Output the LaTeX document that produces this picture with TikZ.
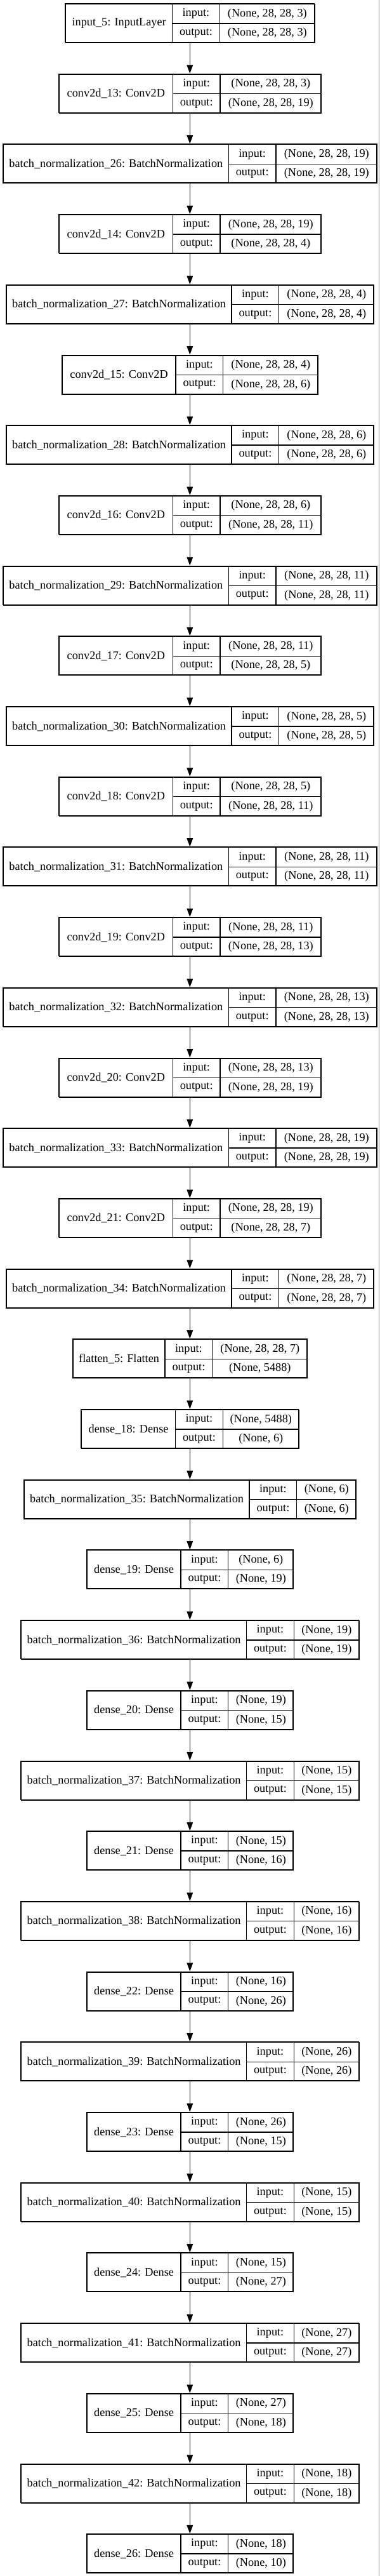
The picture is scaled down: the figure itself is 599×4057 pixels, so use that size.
\documentclass[tikz,border=0pt]{standalone}
\usepackage{fontspec}
\setmainfont{Liberation Serif}
\usetikzlibrary{arrows.meta}
\tikzset{
  frame/.style={draw=black, line width=1pt, inner sep=0pt, rectangle},
  cell/.style={draw=black, line width=1pt, inner sep=0pt, rectangle, align=center,
    font=\fontsize{13.7pt}{15pt}\selectfont},
  conn/.style={draw=black, line width=1pt, -{Triangle[length=10pt,width=7.2pt]}},
  edgeline/.style={draw=black!45, line width=0.75pt}
}
\newcommand\klayer[7]{%
  \pgfmathsetmacro\kyt{5.7+110.7*#2}%
  \pgfmathsetmacro\kw{#3+74.7+#4}%
  \pgfmathsetmacro\kwpt{\kw*0.75}%
  \pgfmathsetmacro\kwa{#3*0.75}%
  \pgfmathsetmacro\kwc{#4*0.75}%
  \pgfmathsetmacro\kxl{299.3-\kw/2}%
  \pgfmathsetmacro\kxa{\kxl+#3}%
  \pgfmathsetmacro\kxb{\kxa+74.7}%
  \pgfmathsetmacro\kym{\kyt+30.5}%
  \node[frame, minimum width=\kwpt pt, minimum height=45.75pt] (#1) at (299.3,\kym) {};
  \node[cell, anchor=north west, minimum width=\kwa pt, minimum height=45.75pt] (#1n) at (\kxl,\kyt) {#5};
  \node[cell, anchor=north west, minimum width=56.025pt, minimum height=22.875pt] (#1i) at (\kxa,\kyt) {input:};
  \node[cell, anchor=north west, minimum width=56.025pt, minimum height=22.875pt] (#1o) at (\kxa,\kym) {output:};
  \node[cell, anchor=north west, minimum width=\kwc pt, minimum height=22.875pt] (#1a) at (\kxb,\kyt) {#6};
  \node[cell, anchor=north west, minimum width=\kwc pt, minimum height=22.875pt] (#1b) at (\kxb,\kym) {#7};
}
\begin{document}
\begin{tikzpicture}[x=0.75pt,y=-0.75pt]
\useasboundingbox (0,0) rectangle (599,4057);
\draw[edgeline] (597.5,0) -- (597.5,4057);
\klayer{L0}{0}{168}{150}{input\_5: InputLayer}{(None, 28, 28, 3)}{(None, 28, 28, 3)}
\klayer{L1}{1}{179}{159.5}{conv2d\_13: Conv2D}{(None, 28, 28, 3)}{(None, 28, 28, 19)}
\klayer{L2}{2}{355}{159.5}{batch\_normalization\_26: BatchNormalization}{(None, 28, 28, 19)}{(None, 28, 28, 19)}
\klayer{L3}{3}{179}{159.5}{conv2d\_14: Conv2D}{(None, 28, 28, 19)}{(None, 28, 28, 4)}
\klayer{L4}{4}{355}{150}{batch\_normalization\_27: BatchNormalization}{(None, 28, 28, 4)}{(None, 28, 28, 4)}
\klayer{L5}{5}{179}{150}{conv2d\_15: Conv2D}{(None, 28, 28, 4)}{(None, 28, 28, 6)}
\klayer{L6}{6}{355}{150}{batch\_normalization\_28: BatchNormalization}{(None, 28, 28, 6)}{(None, 28, 28, 6)}
\klayer{L7}{7}{179}{159.5}{conv2d\_16: Conv2D}{(None, 28, 28, 6)}{(None, 28, 28, 11)}
\klayer{L8}{8}{355}{159.5}{batch\_normalization\_29: BatchNormalization}{(None, 28, 28, 11)}{(None, 28, 28, 11)}
\klayer{L9}{9}{179}{159.5}{conv2d\_17: Conv2D}{(None, 28, 28, 11)}{(None, 28, 28, 5)}
\klayer{L10}{10}{355}{150}{batch\_normalization\_30: BatchNormalization}{(None, 28, 28, 5)}{(None, 28, 28, 5)}
\klayer{L11}{11}{179}{159.5}{conv2d\_18: Conv2D}{(None, 28, 28, 5)}{(None, 28, 28, 11)}
\klayer{L12}{12}{355}{159.5}{batch\_normalization\_31: BatchNormalization}{(None, 28, 28, 11)}{(None, 28, 28, 11)}
\klayer{L13}{13}{179}{159.5}{conv2d\_19: Conv2D}{(None, 28, 28, 11)}{(None, 28, 28, 13)}
\klayer{L14}{14}{355}{159.5}{batch\_normalization\_32: BatchNormalization}{(None, 28, 28, 13)}{(None, 28, 28, 13)}
\klayer{L15}{15}{179}{159.5}{conv2d\_20: Conv2D}{(None, 28, 28, 13)}{(None, 28, 28, 19)}
\klayer{L16}{16}{355}{159.5}{batch\_normalization\_33: BatchNormalization}{(None, 28, 28, 19)}{(None, 28, 28, 19)}
\klayer{L17}{17}{179}{159.5}{conv2d\_21: Conv2D}{(None, 28, 28, 19)}{(None, 28, 28, 7)}
\klayer{L18}{18}{355}{150}{batch\_normalization\_34: BatchNormalization}{(None, 28, 28, 7)}{(None, 28, 28, 7)}
\klayer{L19}{19}{145}{150}{flatten\_5: Flatten}{(None, 28, 28, 7)}{(None, 5488)}
\klayer{L20}{20}{148}{120}{dense\_18: Dense}{(None, 5488)}{(None, 6)}
\klayer{L21}{21}{355}{94}{batch\_normalization\_35: BatchNormalization}{(None, 6)}{(None, 6)}
\klayer{L22}{22}{148}{103}{dense\_19: Dense}{(None, 6)}{(None, 19)}
\klayer{L23}{23}{355}{103}{batch\_normalization\_36: BatchNormalization}{(None, 19)}{(None, 19)}
\klayer{L24}{24}{148}{103}{dense\_20: Dense}{(None, 19)}{(None, 15)}
\klayer{L25}{25}{355}{103}{batch\_normalization\_37: BatchNormalization}{(None, 15)}{(None, 15)}
\klayer{L26}{26}{148}{103}{dense\_21: Dense}{(None, 15)}{(None, 16)}
\klayer{L27}{27}{355}{103}{batch\_normalization\_38: BatchNormalization}{(None, 16)}{(None, 16)}
\klayer{L28}{28}{148}{103}{dense\_22: Dense}{(None, 16)}{(None, 26)}
\klayer{L29}{29}{355}{103}{batch\_normalization\_39: BatchNormalization}{(None, 26)}{(None, 26)}
\klayer{L30}{30}{148}{103}{dense\_23: Dense}{(None, 26)}{(None, 15)}
\klayer{L31}{31}{355}{103}{batch\_normalization\_40: BatchNormalization}{(None, 15)}{(None, 15)}
\klayer{L32}{32}{148}{103}{dense\_24: Dense}{(None, 15)}{(None, 27)}
\klayer{L33}{33}{355}{103}{batch\_normalization\_41: BatchNormalization}{(None, 27)}{(None, 27)}
\klayer{L34}{34}{148}{103}{dense\_25: Dense}{(None, 27)}{(None, 18)}
\klayer{L35}{35}{355}{103}{batch\_normalization\_42: BatchNormalization}{(None, 18)}{(None, 18)}
\klayer{L36}{36}{148}{103}{dense\_26: Dense}{(None, 18)}{(None, 10)}
\foreach \i [evaluate=\i as \j using int(\i+1)] in {0,...,35}
  \draw[conn] (L\i.south) -- (L\j.north);
\end{tikzpicture}
\end{document}
